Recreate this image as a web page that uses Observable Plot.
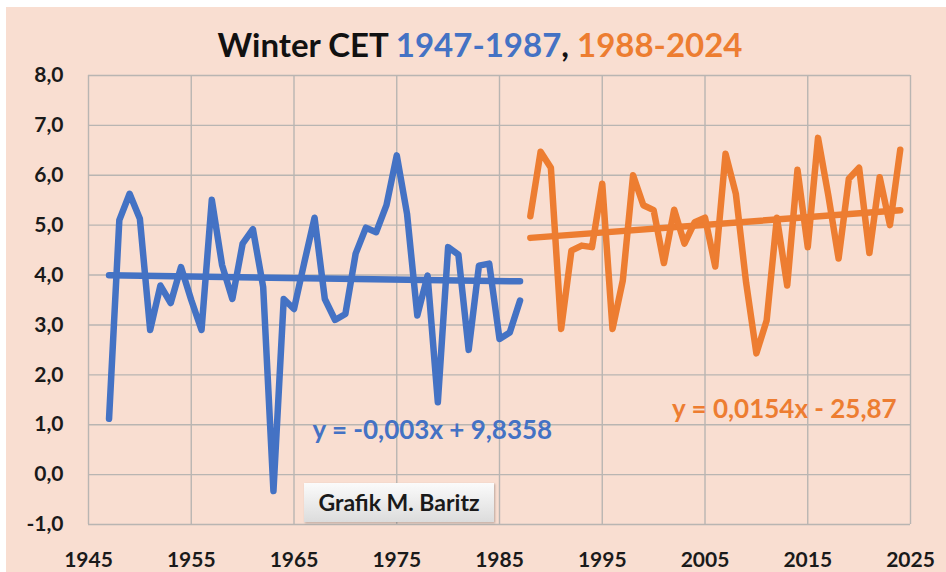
<!DOCTYPE html>
<html>
<head>
<meta charset="utf-8">
<script src="https://cdn.jsdelivr.net/npm/d3@7"></script>
<script src="https://cdn.jsdelivr.net/npm/@observablehq/plot@0.6"></script>
<style>
  html, body { margin: 0; padding: 0; background: #ffffff; }
  #wrap { position: relative; width: 946px; height: 572px; overflow: hidden; font-family: Lato, "Open Sans", sans-serif; }
  #panel { position: absolute; left: 6px; top: 7px; right: 0; bottom: 0; background: #F9DED1; }
  #title { position: absolute; left: 14px; width: 932px; top: 24px; text-align: center; font-size: 33px; font-weight: bold; color: #111; line-height: normal; white-space: nowrap; }
  #chart { position: absolute; left: 0; top: 60px; }
  #credit { position: absolute; left: 304px; top: 483px; width: 190px; height: 39px; background: linear-gradient(#fbfbfb, #dcdcdc); box-shadow: 1px 1px 2px rgba(0,0,0,0.25); color: #1a1a1a; font-size: 23px; font-weight: bold; text-align: center; line-height: 39px; white-space: nowrap; }
</style>
</head>
<body>
<div id="wrap">
  <div id="panel"></div>
  <div id="title"></div>
  <div id="chart"></div>
  <div id="credit"></div>
</div>
<script>
// ---- data ----
const blueYears = d3.range(1947, 1988);
const blueValues = [1.12, 5.10, 5.63, 5.13, 2.90, 3.79, 3.44, 4.16, 3.50, 2.90,
                    5.51, 4.20, 3.52, 4.63, 4.92, 3.76, -0.33, 3.52, 3.32, 4.25,
                    5.15, 3.52, 3.10, 3.22, 4.43, 4.95, 4.86, 5.40, 6.40, 5.23,
                    3.19, 3.99, 1.45, 4.56, 4.41, 2.50, 4.19, 4.23, 2.72, 2.85,
                    3.49];
const orangeYears = d3.range(1988, 2025);
const orangeValues = [5.18, 6.47, 6.15, 2.92, 4.49, 4.59, 4.56, 5.83, 2.92, 3.89,
                      6.00, 5.40, 5.30, 4.24, 5.31, 4.63, 5.06, 5.15, 4.17, 6.43,
                      5.63, 3.85, 2.43, 3.09, 5.15, 3.79, 6.11, 4.56, 6.75, 5.60,
                      4.33, 5.93, 6.15, 4.44, 5.96, 5.00, 6.51];
// trend line coefficients (slope, intercept) as printed on the chart
const blueTrend = [-0.003, 9.8358];
const orangeTrend = [0.0154, -25.87];
const trendLabels = ["y = -0,003x + 9,8358", "y = 0,0154x - 25,87"];
const labelYears = [1966.8, 2001.8];
const labelValues = [0.88, 1.30];
const xTicks = [1945, 1955, 1965, 1975, 1985, 1995, 2005, 2015, 2025];
const yTicks = [-1, 0, 1, 2, 3, 4, 5, 6, 7, 8];
const titleParts = ["Winter CET ", "1947-1987", ", ", "1988-2024"];
const creditText = "Grafik M. Baritz";

const BLUE = "#4472C4", ORANGE = "#ED7D31", GRID = "#B9B5B2";

const blue = blueYears.map((y, i) => ({year: y, v: blueValues[i]}));
const orange = orangeYears.map((y, i) => ({year: y, v: orangeValues[i]}));
const trendOf = (years, c) => [years[0], years[years.length - 1]].map(x => ({year: x, v: c[0] * x + c[1]}));
const blueT = trendOf(blueYears, blueTrend);
const orangeT = trendOf(orangeYears, orangeTrend);
const labels = trendLabels.map((t, i) => ({t, year: labelYears[i], v: labelValues[i], c: i === 0 ? BLUE : ORANGE}));

// title
const title = document.getElementById("title");
const titleColors = ["#111", BLUE, "#111", ORANGE];
titleParts.forEach((p, i) => { const s = document.createElement("span"); s.textContent = p; s.style.color = titleColors[i]; title.appendChild(s); });
document.getElementById("credit").textContent = creditText;

const chart = Plot.plot({
  width: 946,
  height: 512,
  marginLeft: 88,
  marginRight: 36,
  marginTop: 15,
  marginBottom: 48,
  style: {background: "transparent", fontFamily: "Lato, 'Open Sans', sans-serif", fontWeight: "bold", color: "#1a1a1a"},
  x: {domain: [1945, 2025]},
  y: {domain: [-1, 8]},
  marks: [
    Plot.gridX(xTicks, {stroke: GRID, strokeOpacity: 1, strokeWidth: 1.4}),
    Plot.gridY(yTicks, {stroke: GRID, strokeOpacity: 1, strokeWidth: 1.4}),
    Plot.axisX(xTicks, {tickSize: 0, tickPadding: 28, fontSize: 21, tickFormat: d => String(d), label: null}),
    Plot.axisY(yTicks, {tickSize: 0, tickPadding: 25, fontSize: 21, tickFormat: d => d.toFixed(1).replace(".", ","), label: null}),
    Plot.line(blueT, {x: "year", y: "v", stroke: BLUE, strokeWidth: 6.5, strokeLinecap: "round"}),
    Plot.line(orangeT, {x: "year", y: "v", stroke: ORANGE, strokeWidth: 6.5, strokeLinecap: "round"}),
    Plot.line(blue, {x: "year", y: "v", stroke: BLUE, strokeWidth: 6.5, strokeLinejoin: "round", strokeLinecap: "round"}),
    Plot.line(orange, {x: "year", y: "v", stroke: ORANGE, strokeWidth: 6.5, strokeLinejoin: "round", strokeLinecap: "round"}),
    Plot.text(labels, {x: "year", y: "v", text: "t", fill: "c", textAnchor: "start", fontSize: 26, fontWeight: "bold"})
  ]
});
document.getElementById("chart").appendChild(chart);
</script>
</body>
</html>
